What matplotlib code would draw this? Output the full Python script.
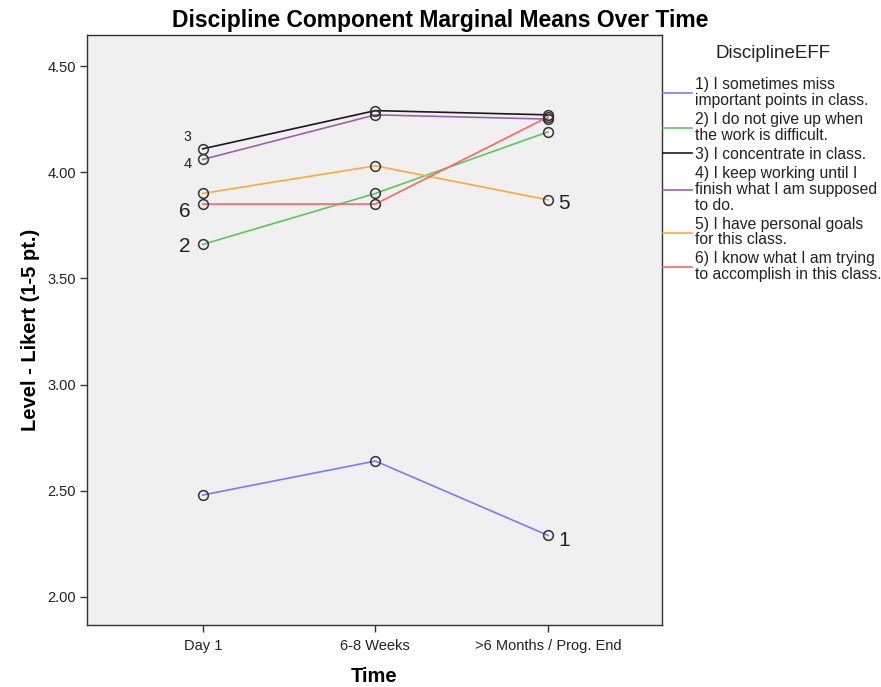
import matplotlib
matplotlib.use("Agg")
import matplotlib.pyplot as plt
from matplotlib.lines import Line2D

plt.rcParams['font.family'] = ['Liberation Sans', 'DejaVu Sans']

time_labels = ["Day 1", "6-8 Weeks", ">6 Months / Prog. End"]
series_names = [
    "1) I sometimes miss\nimportant points in class.",
    "2) I do not give up when\nthe work is difficult.",
    "3) I concentrate in class.",
    "4) I keep working until I\nfinish what I am supposed\nto do.",
    "5) I have personal goals\nfor this class.",
    "6) I know what I am trying\nto accomplish in this class.",
]
s1 = [2.48, 2.64, 2.29]
s2 = [3.66, 3.90, 4.19]
s3 = [4.11, 4.29, 4.27]
s4 = [4.06, 4.27, 4.25]
s5 = [3.90, 4.03, 3.87]
s6 = [3.85, 3.85, 4.26]
series_values = [s1, s2, s3, s4, s5, s6]
colors = ["#7b7bff", "#5cc85c", "#1a1a1a", "#a060b0", "#ffa83c", "#ff6464"]

# point-label annotations: (series index, time index, text, dx px, dy px, size)
point_labels = [
    (2, 0, "3", -15, 12, 10),
    (3, 0, "4", -15, -5, 10.5),
    (5, 0, "6", -18, -7, 15),
    (1, 0, "2", -18, -2, 15),
    (4, 2, "5", 16, -4, 15),
    (0, 2, "1", 16, -5, 15),
]

W, H = 881, 687
fig = plt.figure(figsize=(W / 100, H / 100), dpi=100)
fig.patch.set_facecolor("white")
ax = fig.add_axes([87 / W, 1 - 625 / H, (662 - 87) / W, (625 - 35) / H])
ax.set_facecolor("#f0f0f0")

x = [1, 2, 3]
for vals, c in zip(series_values, colors):
    ax.plot(x, vals, color=c, lw=1.2, zorder=2)
for vals in series_values:
    ax.plot(x, vals, ls="none", marker="o", ms=7, mfc="none", mec="#333333",
            mew=1.1, zorder=3)

pt = 72 / 100
for si, ti, t, dx, dy, fs in point_labels:
    ax.annotate(t, (x[ti], series_values[si][ti]), xytext=(dx * pt, dy * pt),
                textcoords="offset points", ha="center", va="center",
                fontsize=fs, color="#222222")

ax.set_xlim(0.33, 3.66)
ax.set_ylim(1.868, 4.646)
ax.set_xticks(x)
ax.set_xticklabels(time_labels, fontsize=10.5)
yt = [2.0, 2.5, 3.0, 3.5, 4.0, 4.5]
ax.set_yticks(yt)
ax.set_yticklabels([f"{v:.2f}" for v in yt], fontsize=10.5)
ax.tick_params(axis="both", direction="out", length=5, width=1, color="#333333",
               labelcolor="#222222")
ax.tick_params(axis="x", pad=5)
ax.tick_params(axis="y", pad=3)
for sp in ax.spines.values():
    sp.set_color("#333333")
    sp.set_linewidth(1.0)

ax.set_xlabel("Time", fontsize=14.5, fontweight="bold", va="center")
ax.xaxis.set_label_coords(0.5, (625 - 677) / 590)
ax.set_ylabel("Level - Likert (1-5 pt.)", fontsize=14.5, fontweight="bold", va="center")
ax.yaxis.set_label_coords((30 - 87) / 575, 0.5)
fig.text(0.5, 1 - 20 / H, "Discipline Component Marginal Means Over Time",
         ha="center", va="center", fontsize=16.5, fontweight="bold")

fig.text(773 / W, 1 - 54 / H, "DisciplineEFF", ha="center", va="center",
         fontsize=13.5, color="#222222")
handles = [Line2D([], [], color=c, lw=1.2) for c in colors]
leg = fig.legend(handles, series_names, loc="upper left",
                 bbox_to_anchor=(663 / W, 1 - 77 / H), frameon=False,
                 fontsize=11.3, handlelength=1.85, handletextpad=0.18,
                 labelspacing=0.25, borderaxespad=0, borderpad=0)
for t in leg.get_texts():
    t.set_linespacing(1.08)
    t.set_color("#222222")

fig.savefig("out.png", dpi=100)
